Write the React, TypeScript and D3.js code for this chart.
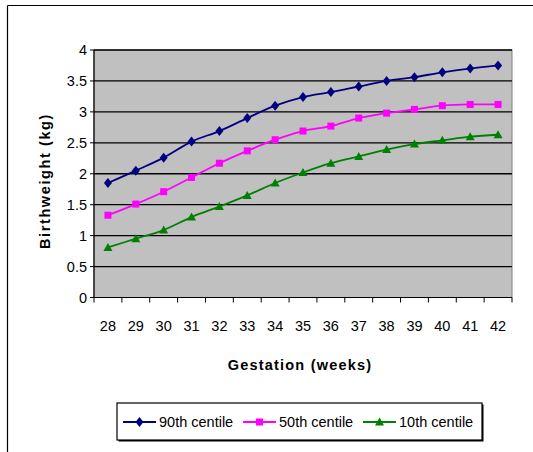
import React from "react";
import * as d3 from "d3";

const weeks = ["28","29","30","31","32","33","34","35","36","37","38","39","40","41","42"];
const p90 = [1.85,2.05,2.26,2.52,2.69,2.9,3.1,3.24,3.32,3.41,3.5,3.56,3.64,3.7,3.75];
const p50 = [1.33,1.51,1.71,1.94,2.17,2.37,2.55,2.69,2.77,2.9,2.98,3.04,3.1,3.12,3.12];
const p10 = [0.81,0.95,1.09,1.3,1.47,1.65,1.85,2.02,2.17,2.28,2.39,2.48,2.54,2.6,2.63];
const yTicks = [0,0.5,1,1.5,2,2.5,3,3.5,4];
const seriesNames = ["90th centile","50th centile","10th centile"];
const seriesColors = ["#000080","#FF00FF","#008000"];

const W = 533, H = 452;
const L = 94, R = 512, T = 50, B = 297.5;
const FONT = "'Liberation Sans', Arial, sans-serif";

function Marker({ kind, x, y, color }: { kind: number; x: number; y: number; color: string }) {
  if (kind === 0) {
    return <path d={`M${x},${y - 5}L${x + 4},${y}L${x},${y + 5}L${x - 4},${y}Z`} fill={color} />;
  }
  if (kind === 1) {
    return <rect x={x - 3.5} y={y - 3.5} width={7} height={7} fill={color} />;
  }
  return <path d={`M${x},${y - 4.5}L${x + 4.5},${y + 3.5}L${x - 4.5},${y + 3.5}Z`} fill={color} />;
}

export default function App() {
  const x = d3.scaleBand<string>().domain(weeks).range([L, R]).padding(0);
  const y = d3.scaleLinear().domain([0, 4]).range([B, T]);
  const data = [p90, p50, p10];
  const line = d3
    .line<number>()
    .x((_, i) => (x(weeks[i]) as number) + x.bandwidth() / 2)
    .y((d) => y(d))
    .curve(d3.curveCatmullRom.alpha(0));

  const legendItems = [
    { lx: 123, tx: 159 },
    { lx: 243, tx: 279 },
    { lx: 363, tx: 399 },
  ];

  return (
    <svg width={W} height={H} style={{ display: "block", position: "absolute", left: 0, top: 0 }}>
      <rect x={0} y={0} width={W} height={H} fill="#fff" />
      {/* outer frame */}
      <line x1={7.5} y1={5.5} x2={W} y2={5.5} stroke="#000" strokeWidth={1.2} />
      <line x1={7.5} y1={5.5} x2={7.5} y2={H} stroke="#000" strokeWidth={1.2} />

      {/* plot area */}
      <rect x={L} y={T} width={R - L} height={B - T} fill="#C0C0C0" stroke="#808080" strokeWidth={1} />
      {yTicks.map((t) => (
        <g key={t}>
          {t > 0 && <line x1={L} x2={R} y1={y(t)} y2={y(t)} stroke="#000" strokeWidth={1.3} />}
          <line x1={L - 4} x2={L} y1={y(t)} y2={y(t)} stroke="#000" strokeWidth={1} />
          <text
            x={L - 7}
            y={y(t)}
            dy="0.35em"
            textAnchor="end"
            fontFamily={FONT}
            fontSize={14.5}
            fill="#000"
          >
            {t}
          </text>
        </g>
      ))}
      {/* axes */}
      <line x1={L} x2={L} y1={T} y2={B} stroke="#000" strokeWidth={1.2} />
      <line x1={L} x2={R} y1={B} y2={B} stroke="#000" strokeWidth={1.2} />
      {weeks.map((w, i) => (
        <g key={w}>
          <line
            x1={(x(w) as number)}
            x2={(x(w) as number)}
            y1={B}
            y2={B + 5}
            stroke="#000"
          />
          {i === weeks.length - 1 && (
            <line x1={R} x2={R} y1={B} y2={B + 5} stroke="#000" />
          )}
          <text
            x={(x(w) as number) + x.bandwidth() / 2}
            y={326}
            dy="0.35em"
            textAnchor="middle"
            fontFamily={FONT}
            fontSize={14.5}
            fill="#000"
          >
            {w}
          </text>
        </g>
      ))}

      {/* series */}
      {data.map((s, si) => (
        <g key={si}>
          <path d={line(s) as string} fill="none" stroke={seriesColors[si]} strokeWidth={1.8} />
          {s.map((v, i) => (
            <Marker
              key={i}
              kind={si}
              x={(x(weeks[i]) as number) + x.bandwidth() / 2}
              y={y(v)}
              color={seriesColors[si]}
            />
          ))}
        </g>
      ))}

      {/* axis titles */}
      <text
        x={300}
        y={365}
        dy="0.35em"
        textAnchor="middle"
        fontFamily={FONT}
        fontSize={14.5}
        fontWeight="bold"
        letterSpacing={1.2}
        fill="#000"
      >
        Gestation (weeks)
      </text>
      <text
        transform={`translate(45,181) rotate(-90)`}
        dy="0.35em"
        textAnchor="middle"
        fontFamily={FONT}
        fontSize={14.5}
        fontWeight="bold"
        letterSpacing={1.6}
        fill="#000"
      >
        Birthweight (kg)
      </text>

      {/* legend */}
      <rect x={118.5} y={404.5} width={365} height={37} fill="#000" />
      <rect x={117} y={403} width={365} height={37} fill="#fff" stroke="#000" strokeWidth={1.2} />
      {legendItems.map((it, i) => (
        <g key={i}>
          <line x1={it.lx} x2={it.lx + 33} y1={422} y2={422} stroke={seriesColors[i]} strokeWidth={1.8} />
          <Marker kind={i} x={it.lx + 16.5} y={422} color={seriesColors[i]} />
          <text
            x={it.tx}
            y={422}
            dy="0.35em"
            fontFamily={FONT}
            fontSize={14.5}
            fill="#000"
          >
            {seriesNames[i]}
          </text>
        </g>
      ))}
    </svg>
  );
}
